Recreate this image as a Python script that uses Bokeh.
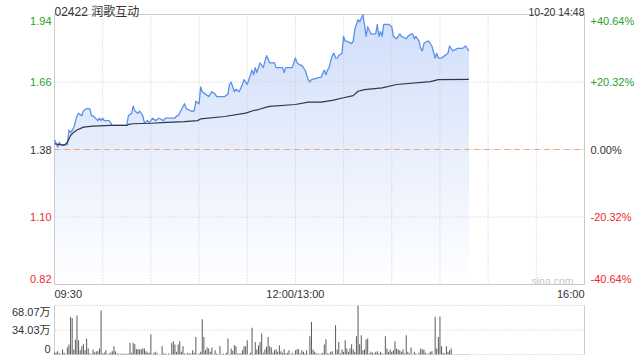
import numpy as np
from bokeh.plotting import figure
from bokeh.models import Range1d, ColumnDataSource
from bokeh.core.properties import value
from bokeh.embed import file_html
from bokeh.resources import INLINE

# ---------------- data ----------------
title_text = "02422 润歌互动"
stamp_text = "10-20 14:48"
watermark = "sina.com"
prev_close = 1.38
pct_limit = 40.64
price_tick_labels = ["1.94", "1.66", "1.38", "1.10", "0.82"]
pct_tick_labels = ["+40.64%", "+20.32%", "0.00%", "-20.32%", "-40.64%"]
time_tick_labels = ["09:30", "12:00/13:00", "16:00"]
time_tick_values = ["09:30", "12:00", "16:00"]
vol_max = 68.07
vol_tick_labels = ["68.07万", "34.03万", "0"]

price_times = [
    "09:30", "09:32", "09:33", "09:34", "09:36", "09:38", "09:39", "09:40", "09:42", "09:44",
    "09:45", "09:47", "09:48", "09:50", "09:52", "09:53", "09:54", "09:57", "09:58", "09:59",
    "10:00", "10:01", "10:04", "10:06", "10:15", "10:16", "10:18", "10:19", "10:20", "10:22",
    "10:23", "10:25", "10:26", "10:28", "10:29", "10:31", "10:33", "10:35", "10:38", "10:39",
    "10:43", "10:45", "10:46", "10:47", "10:51", "10:52", "10:55", "10:57", "10:58", "11:00",
    "11:01", "11:02", "11:04", "11:06", "11:08", "11:10", "11:11", "11:16", "11:18", "11:19",
    "11:20", "11:22", "11:23", "11:25", "11:27", "11:28", "11:30", "11:32", "11:33", "11:34",
    "11:35", "11:36", "11:38", "11:39", "11:40", "11:42", "11:44", "11:47", "11:48", "11:52",
    "11:53", "11:54", "11:58", "12:00", "13:01", "13:03", "13:04", "13:06", "13:08", "13:09",
    "13:10", "13:15", "13:16", "13:18", "13:19", "13:20", "13:21", "13:22", "13:23", "13:24",
    "13:25", "13:26", "13:27", "13:29", "13:30", "13:31", "13:32", "13:35", "13:36", "13:37",
    "13:38", "13:39", "13:40", "13:42", "13:43", "13:44", "13:45", "13:47", "13:50", "13:51",
    "13:52", "13:53", "13:54", "13:55", "13:56", "13:58", "14:00", "14:01", "14:03", "14:04",
    "14:05", "14:06", "14:09", "14:10", "14:12", "14:13", "14:14", "14:15", "14:17", "14:18",
    "14:19", "14:20", "14:22", "14:23", "14:25", "14:27", "14:28", "14:29", "14:31", "14:33",
    "14:35", "14:36", "14:38", "14:41", "14:44", "14:46", "14:48",
]
price_values = [
    1.42, 1.39, 1.41, 1.40, 1.40, 1.40, 1.46, 1.45, 1.47, 1.52,
    1.53, 1.52, 1.54, 1.55, 1.55, 1.52, 1.52, 1.50, 1.51, 1.50,
    1.51, 1.50, 1.50, 1.48, 1.48, 1.52, 1.53, 1.56, 1.54, 1.53,
    1.54, 1.52, 1.49, 1.50, 1.49, 1.51, 1.50, 1.51, 1.50, 1.51,
    1.51, 1.51, 1.52, 1.52, 1.57, 1.55, 1.54, 1.54, 1.58, 1.57,
    1.64, 1.62, 1.61, 1.60, 1.62, 1.61, 1.60, 1.60, 1.61, 1.65,
    1.66, 1.62, 1.63, 1.62, 1.65, 1.67, 1.65, 1.69, 1.71, 1.69,
    1.72, 1.70, 1.74, 1.73, 1.72, 1.77, 1.74, 1.74, 1.72, 1.72,
    1.70, 1.72, 1.72, 1.76, 1.74, 1.73, 1.73, 1.71, 1.67, 1.66,
    1.67, 1.68, 1.68, 1.71, 1.69, 1.71, 1.72, 1.75, 1.77, 1.78,
    1.76, 1.76, 1.77, 1.78, 1.85, 1.83, 1.83, 1.82, 1.83, 1.88,
    1.90, 1.92, 1.91, 1.94, 1.90, 1.85, 1.89, 1.86, 1.86, 1.90,
    1.85, 1.87, 1.85, 1.90, 1.90, 1.90, 1.89, 1.85, 1.84, 1.85,
    1.86, 1.85, 1.84, 1.85, 1.86, 1.86, 1.84, 1.85, 1.83, 1.80,
    1.79, 1.82, 1.83, 1.83, 1.81, 1.76, 1.78, 1.76, 1.76, 1.77,
    1.78, 1.81, 1.79, 1.80, 1.80, 1.81, 1.79,
]

avg_times = [
    "09:30", "09:36", "09:38", "09:40", "09:42", "09:44", "09:48", "09:54", "10:05", "10:15",
    "10:16", "10:19", "10:30", "10:40", "10:51", "10:59", "11:01", "11:16", "11:29", "11:34",
    "11:37", "11:42", "11:44", "12:00", "13:08", "13:16", "13:23", "13:30", "13:36", "13:39",
    "13:43", "13:54", "14:03", "14:24", "14:29", "14:48",
]
avg_values = [
    1.404, 1.397, 1.410, 1.438, 1.452, 1.461, 1.473, 1.477, 1.480, 1.480,
    1.484, 1.487, 1.489, 1.493, 1.496, 1.500, 1.507, 1.517, 1.531, 1.542,
    1.546, 1.556, 1.559, 1.567, 1.577, 1.577, 1.584, 1.595, 1.604, 1.622,
    1.629, 1.636, 1.650, 1.662, 1.670, 1.671,
]

# volume per trading minute from 09:30 (unit: 万)
vol_values = [
    2.3, 2.8, 4.6, 1.4, 0.5, 6.9, 2.3, 0.5, 10.1, 13.8,
    52.0, 50.6, 6.9, 20.7, 54.3, 19.8, 6.0, 11.5, 14.3, 6.0,
    22.1, 8.3, 1.4, 0.5, 6.9, 2.8, 4.6, 4.6, 8.3, 61.2,
    1.4, 2.8, 6.0, 0.5, 1.4, 2.8, 4.6, 11.5, 4.6, 1.4,
    0.9, 0.9, 0.9, 0.9, 0.9, 0.9, 0.9, 16.1, 2.3, 16.1,
    14.3, 7.4, 7.4, 6.9, 7.4, 8.3, 8.3, 4.6, 2.8, 2.3,
    28.1, 0.5, 2.3, 3.7, 1.4, 0.5, 0.5, 11.5, 1.4, 1.4,
    0.5, 1.4, 0.5, 16.1, 18.4, 13.8, 3.7, 13.8, 18.4, 3.7,
    11.5, 1.4, 0.5, 2.3, 1.4, 1.4, 6.0, 2.3, 24.4, 0.5,
    1.4, 3.7, 48.8, 24.4, 6.0, 9.7, 8.3, 3.7, 9.7, 0.5,
    6.0, 1.4, 0.5, 11.5, 0.5, 1.4, 0.5, 2.3, 22.1, 0.5,
    8.3, 5.1, 12.9, 11.5, 1.4, 1.4, 1.4, 6.0, 11.5, 11.5,
    19.8, 0.5, 2.3, 37.3, 0.5, 17.5, 6.9, 12.9, 17.5, 29.0,
    2.3, 6.9, 10.6, 24.4, 11.5, 9.7, 2.3, 6.0, 7.4, 3.7,
    12.9, 4.6, 2.3, 7.4, 1.4, 2.3, 6.0, 0.5, 2.3, 0.5,
    6.0, 7.4, 7.4, 1.4, 6.0, 3.7, 1.4, 6.0, 0.5, 25.3,
    45.1, 6.9, 3.7, 1.4, 1.4, 0.5, 1.4, 2.3, 13.8, 21.2,
    1.4, 1.4, 3.7, 4.6, 0.5, 40.5, 6.9, 17.5, 1.4, 6.9,
    3.7, 19.8, 8.3, 3.7, 8.3, 14.3, 6.9, 3.7, 25.3, 68.07,
    14.3, 26.7, 6.0, 6.9, 20.7, 22.1, 1.4, 3.7, 2.3, 1.4,
    3.7, 4.6, 1.4, 3.7, 1.4, 0.5, 25.3, 8.3, 3.7, 6.9,
    3.7, 6.0, 18.4, 8.3, 6.9, 6.0, 3.7, 6.9, 1.4, 26.7,
    3.7, 1.4, 9.7, 0.5, 3.7, 1.4, 0.5, 2.3, 8.3, 6.9,
    6.9, 2.3, 0.5, 1.4, 3.7, 4.6, 0.5, 52.0, 8.3, 24.4,
    52.9, 11.5, 2.3, 1.4, 11.5, 3.7, 6.0, 8.3, 0.5, 0.5,
    0.5, 0.5, 0.5, 0.5, 0.5, 0.5, 0.5, 0.5, 0.5,
]

assert len(price_times) == len(price_values)
assert len(avg_times) == len(avg_values)


def tmin(s):
    """trading minute index from 09:30, lunch break removed"""
    h, m = map(int, s.split(":"))
    mm = h * 60 + m
    if mm <= 12 * 60:
        return mm - (9 * 60 + 30)
    return 150 + mm - 13 * 60


# ---------------- layout (pixels) ----------------
W, H = 640, 360
FX0, FX1 = 54, 584          # plot frame left/right
PY0, PY1 = 14, 284          # price frame top/bottom
VY0, VY1 = 305, 354         # volume frame top/bottom
T_END = tmin("16:00")

FONT = "Liberation Sans, Noto Sans CJK SC"
GREEN = "#27a327"
RED = "#f02a2a"
DARK = "#333333"
GRID = "#c9c9c9"

hi = prev_close * (1 + pct_limit / 100)
lo = prev_close * (1 - pct_limit / 100)
levels = [prev_close * (1 + pct_limit / 100 * k / 2) for k in (2, 1, 0, -1, -2)]

sx = (FX1 - FX0) / T_END
x_start, x_end = -FX0 / sx, (W - FX0) / sx
sy = (PY1 - PY0) / (hi - lo)
y_end = hi + PY0 / sy
y_start = lo - (H - PY1) / sy
sv = (VY1 - VY0) / vol_max
v_end = vol_max + VY0 / sv
v_start = -(H - VY1) / sv

p = figure(width=W, height=H, x_range=Range1d(x_start, x_end), y_range=Range1d(y_start, y_end),
           output_backend="svg", toolbar_location=None,
           x_axis_location=None, y_axis_location=None,
           min_border=0, min_border_left=0, min_border_right=0,
           min_border_top=0, min_border_bottom=0)
p.outline_line_color = None
p.grid.visible = False
p.background_fill_color = "white"
p.border_fill_color = "white"
p.extra_y_ranges = {"vol": Range1d(v_start, v_end)}

pt = np.array([tmin(s) for s in price_times], dtype=float)
pv = np.array(price_values, dtype=float)
at = np.array([tmin(s) for s in avg_times], dtype=float)
av = np.array(avg_values, dtype=float)

# ---------- gradient area under price ----------
top_rgb = np.array([208, 222, 250])
bot_rgb = np.array([255, 255, 255])
N = 45
for k in range(N):
    lev = hi - k * (hi - lo) / N
    if k > 0 and lev > pv.max() + (hi - lo) / N:
        continue
    frac = (k + 0.5) / N
    c = top_rgb + (bot_rgb - top_rgb) * frac
    col = "#%02x%02x%02x" % tuple(int(round(v)) for v in c)
    p.varea(x=pt, y1=np.full_like(pv, lo), y2=np.minimum(pv, lev), fill_color=col, fill_alpha=1.0)

# ---------- grid ----------
gx = np.arange(30, T_END, 30)
p.segment(x0=gx, y0=[lo] * len(gx), x1=gx, y1=[hi] * len(gx), line_color=GRID, line_dash="1 2", line_width=1)
p.segment(x0=[0, 0], y0=[levels[1], levels[3]], x1=[T_END, T_END], y1=[levels[1], levels[3]],
          line_color=GRID, line_dash="1 2", line_width=1)
p.line(x=[0, T_END], y=[prev_close, prev_close], line_color=GRID, line_dash="1 2", line_width=1)
p.line(x=[0, T_END], y=[prev_close, prev_close], line_color="#f0a06a", line_dash="5 5", line_width=1)

# frame
p.quad(left=[0], right=[T_END], bottom=[lo], top=[hi], fill_color=None, line_color="#cccccc", line_width=1)

# ---------- lines ----------
p.line(x=pt, y=pv, line_color="#5a92ea", line_width=1.3, line_join="round")
p.line(x=at, y=av, line_color="#2f3747", line_width=1.2, line_join="round")

# ---------- volume ----------
vt = np.arange(len(vol_values))
p.segment(x0=[0, 0, 0], y0=[vol_max, vol_max / 2, 0], x1=[T_END] * 3, y1=[vol_max, vol_max / 2, 0],
          line_color=GRID, line_dash="1 2", line_width=1, y_range_name="vol")
p.segment(x0=[0, T_END], y0=[0, 0], x1=[0, T_END], y1=[vol_max, vol_max],
          line_color="#cccccc", line_width=1, y_range_name="vol")
p.vbar(x=vt, top=vol_values, bottom=0, width=0.62, fill_color="#5a5a5a", line_color=None,
       y_range_name="vol")

# ---------- texts ----------
def txt(x, y, t, align, color, size="11px", baseline="middle", xo=0, yo=0, yname="default"):
    src = ColumnDataSource(dict(x=x, y=y, t=t, c=color, xo=xo, yo=yo))
    p.text(x="x", y="y", text="t", text_color="c", x_offset="xo", y_offset="yo", source=src,
           text_align=align, text_baseline=baseline, text_font=value(FONT),
           text_font_size=value(size), y_range_name=yname)

lab_cols = [GREEN, GREEN, DARK, RED, RED]
lab_yo = [6, 0, 0, 0, -6]
txt([0] * 5, levels, price_tick_labels, "right", lab_cols, xo=[-3] * 5, yo=lab_yo)
txt([T_END] * 5, levels, pct_tick_labels, "left", lab_cols, xo=[6] * 5, yo=lab_yo)

tx = [tmin(s) for s in time_tick_values]
for xv, lab, al in zip(tx, time_tick_labels, ["left", "center", "right"]):
    txt([xv], [lo], [lab], al, [DARK], xo=[0], yo=[9.5])

txt([0], [hi], [title_text], "left", [DARK], size="12px", baseline="alphabetic", xo=[0], yo=[-2.5])
txt([T_END], [hi], [stamp_text], "right", [DARK], size="10.5px", baseline="alphabetic", xo=[0], yo=[-2.5])
txt([T_END], [lo], [watermark], "right", ["#c8c8c8"], size="10.5px", xo=[-11], yo=[-4])

txt([0] * 3, [vol_max, vol_max / 2, 0], vol_tick_labels, "right", [DARK] * 3,
    xo=[-4] * 3, yo=[6.5, 0, -6], yname="vol")

open("out.html", "w").write(file_html(p, INLINE))
